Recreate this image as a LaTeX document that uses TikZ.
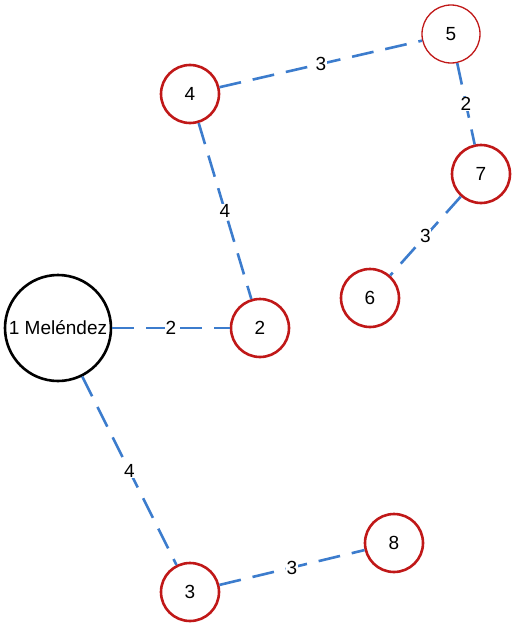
\documentclass[tikz,border=0pt]{standalone}
\usepackage{fontspec}
\setmainfont{Liberation Sans}
\definecolor{nodered}{RGB}{192,24,24}
\definecolor{edgeblue}{RGB}{60,124,205}
\begin{document}
\begin{tikzpicture}[x=1pt,y=-1pt,
  vert/.style={circle,draw=nodered,line width=2.6pt,minimum size=58pt,inner sep=0pt,font=\fontsize{19}{21}\selectfont},
  thinvert/.style={vert,line width=1.3pt},
  bigvert/.style={circle,draw=black,line width=2.6pt,minimum size=106pt,inner sep=0pt,font=\fontsize{19}{21}\selectfont},
  edge/.style={draw=edgeblue,line width=2.6pt,dash pattern=on 22pt off 12pt},
  wlabel/.style={fill=white,inner sep=0.5pt,font=\fontsize{19}{21}\selectfont}]
\useasboundingbox (0,0) rectangle (517,629);
\node[bigvert] (n1) at (58,328) {1 Meléndez};
\node[vert] (n2) at (260,328) {2};
\node[vert] (n3) at (190,592) {3};
\node[vert] (n4) at (190,94) {4};
\node[thinvert] (n5) at (451,34) {5};
\node[vert] (n6) at (370,298) {6};
\node[vert] (n7) at (481,174) {7};
\node[vert] (n8) at (394,543) {8};
\path[edge] (n1) -- node[wlabel] {2} (n2);
\path[edge] (n1) -- node[wlabel] {4} (n3);
\path[edge] (n4) -- node[wlabel] {4} (n2);
\path[edge] (n4) -- node[wlabel] {3} (n5);
\path[edge] (n5) -- node[wlabel] {2} (n7);
\path[edge] (n7) -- node[wlabel] {3} (n6);
\path[edge] (n3) -- node[wlabel] {3} (n8);
\end{tikzpicture}
\end{document}
